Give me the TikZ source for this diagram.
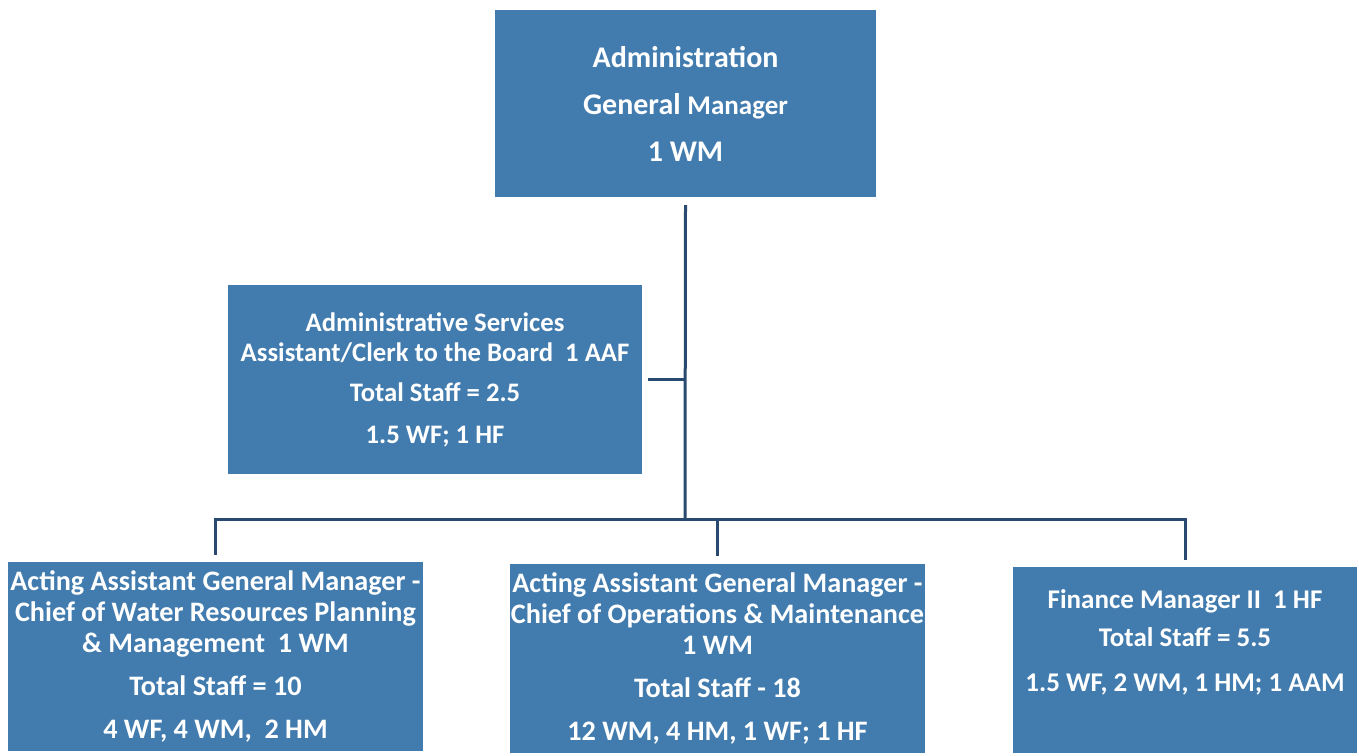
\documentclass[tikz,border=0pt]{standalone}
\usepackage{fontspec}
\setmainfont{Carlito}
\definecolor{boxblue}{RGB}{66,124,175}
\definecolor{linkblue}{RGB}{40,74,112}
\begin{document}
\begin{tikzpicture}[x=1pt,y=-1pt,
  orgbox/.style={fill=boxblue, text=white, align=center, inner sep=0pt, anchor=center},
  link/.style={draw=linkblue, line width=3pt, line join=miter}]
\useasboundingbox[fill=white] (0,0) rectangle (1359,755);

\node[orgbox, minimum width=381pt, minimum height=187pt,
  font=\fontsize{30}{47}\selectfont\bfseries] (gm) at (685.5,103.5)
  {Administration\\ General {\fontsize{27}{47}\selectfont Manager}\\ 1 WM};

\node[orgbox, minimum width=414pt, minimum height=189pt,
  font=\fontsize{26.7}{30}\selectfont\bfseries] (admin) at (435,379.5)
  {Administrative Services\\ Assistant/Clerk to the Board\ \ 1 AAF\\[10pt] Total Staff = 2.5\\[12pt] 1.5 WF; 1 HF};

\node[orgbox, minimum width=415pt, minimum height=189pt,
  font=\fontsize{28.2}{31}\selectfont\bfseries] (wrp) at (215.5,656.5)
  {Acting Assistant General Manager -\\ Chief of Water Resources Planning\\ \& Management\ \ 1 WM\\[12pt] Total Staff = 10\\[12pt] 4 WF, 4 WM,\ \ 2 HM};

\node[orgbox, minimum width=415pt, minimum height=189pt,
  font=\fontsize{28.2}{31}\selectfont\bfseries] (om) at (717.5,658)
  {Acting Assistant General Manager -\\ Chief of Operations \& Maintenance\\ 1 WM\\[12pt] Total Staff - 18\\[12pt] 12 WM, 4 HM, 1 WF; 1 HF};

\node[orgbox, minimum width=344pt, minimum height=186pt,
  font=\fontsize{27}{31}\selectfont\bfseries] (fin) at (1185,659.5)
  {Finance Manager II\ \ 1 HF\\[7pt] Total Staff = 5.5\\[14pt] 1.5 WF, 2 WM, 1 HM; 1 AAM\\[6pt] \mbox{}};

\coordinate (bus) at (685,519);

\draw[link] (gm.south) ++(0,8) -- (bus);
\draw[link] (admin.east) ++(6,0) -- (admin.east -| bus);
\draw[link] ([yshift=7pt]wrp.north) -- (wrp.north |- bus) -- (fin.north |- bus) -- ([yshift=6pt]fin.north);
\draw[link] (om.north |- bus) -- ([yshift=7pt]om.north);
\end{tikzpicture}
\end{document}
